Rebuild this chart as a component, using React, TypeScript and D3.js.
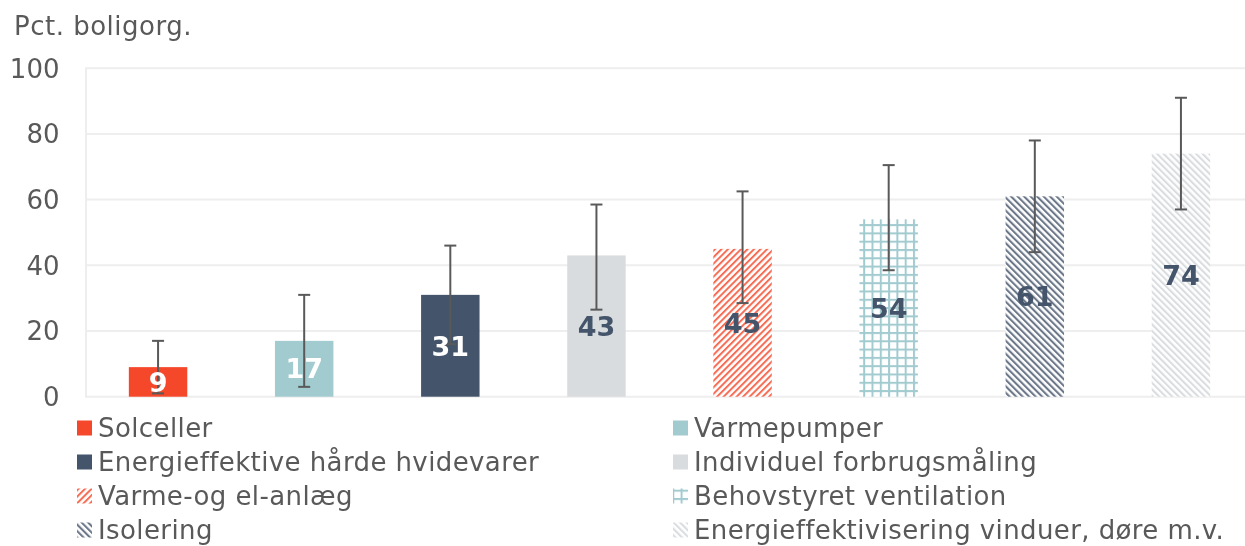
import React from 'react';
import * as d3 from 'd3';

const categories = [
  'Solceller',
  'Varmepumper',
  'Energieffektive hårde hvidevarer',
  'Individuel forbrugsmåling',
  'Varme-og el-anlæg',
  'Behovstyret ventilation',
  'Isolering',
  'Energieffektivisering vinduer, døre m.v.',
];
const values = [9, 17, 31, 43, 45, 54, 61, 74];
const lowerBounds = [1, 3, 16, 26.5, 28.5, 38.5, 44, 57];
const upperBounds = [17, 31, 46, 58.5, 62.5, 70.5, 78, 91];
const yTicks = [0, 20, 40, 60, 80, 100];

// fill per category: solid colour or pattern id
const fills = ['#F5472A', '#A2CBD0', '#44546A', '#D9DCDF', 'url(#p-red)', 'url(#p-grid)', 'url(#p-dark)', 'url(#p-light)'];
const labelColors = ['#fff', '#fff', '#fff', '#44546A', '#44546A', '#44546A', '#44546A', '#44546A'];

const W = 1245;
const H = 546;
const FONT = '"DejaVu Sans", Verdana, sans-serif';

export default function App() {
  const x = d3.scaleBand<string>().domain(categories).range([85, 1254]).paddingInner(0.6).paddingOuter(0.3);
  const y = d3.scaleLinear().domain([0, 100]).range([396.7, 68.2]);
  const bw = x.bandwidth();

  return (
    <svg width={W} height={H} style={{ position: 'fixed', left: 0, top: 0, fontFamily: FONT }}>
      <defs>
        <pattern id="p-red" width="4.6" height="4.6" patternUnits="userSpaceOnUse" patternTransform="rotate(45)">
          <rect width="4.6" height="4.6" fill="#fff" />
          <rect width="2" height="4.6" fill="#F5472A" opacity="0.8" />
        </pattern>
        <pattern id="p-dark" width="4.6" height="4.6" patternUnits="userSpaceOnUse" patternTransform="rotate(-45)">
          <rect width="4.6" height="4.6" fill="#fff" />
          <rect width="2.1" height="4.6" fill="#6C7889" />
        </pattern>
        <pattern id="p-light" width="4.6" height="4.6" patternUnits="userSpaceOnUse" patternTransform="rotate(-45)">
          <rect width="4.6" height="4.6" fill="#fff" />
          <rect width="2.1" height="4.6" fill="#DADDE0" />
        </pattern>
        <pattern id="p-grid" width="8.3" height="8.3" patternUnits="userSpaceOnUse">
          <rect width="8.3" height="8.3" fill="#fff" />
          <rect width="2" height="8.3" fill="#A2CBD0" />
          <rect width="8.3" height="2" fill="#A2CBD0" />
        </pattern>
      </defs>

      <text x={14} y={35} fontSize={26} letterSpacing={0.5} fill="#595959">Pct. boligorg.</text>

      <line x1={86} x2={86} y1={y(100)} y2={y(0)} stroke="#EEEEEE" strokeWidth={2} />
      {yTicks.map(t => (
        <g key={t}>
          <line x1={85} x2={W} y1={y(t)} y2={y(t)} stroke="#EEEEEE" strokeWidth={2} />
          <text x={59.5} y={y(t)} dy="0.36em" textAnchor="end" fontSize={26} fill="#595959">{t}</text>
        </g>
      ))}

      {categories.map((c, i) => (
        <rect key={c} x={x(c)} y={y(values[i])} width={bw} height={y(0) - y(values[i])} fill={fills[i]} />
      ))}

      {categories.map((c, i) => {
        const cx = (x(c) ?? 0) + bw / 2;
        return (
          <g key={c} stroke="#595959" strokeWidth={2}>
            <line x1={cx} x2={cx} y1={y(upperBounds[i])} y2={y(lowerBounds[i])} />
            <line x1={cx - 6} x2={cx + 6} y1={y(upperBounds[i])} y2={y(upperBounds[i])} />
            <line x1={cx - 6} x2={cx + 6} y1={y(lowerBounds[i])} y2={y(lowerBounds[i])} />
          </g>
        );
      })}

      {categories.map((c, i) => (
        <text
          key={c}
          x={(x(c) ?? 0) + bw / 2}
          y={(y(values[i]) + y(0)) / 2}
          dy="0.36em"
          textAnchor="middle"
          fontSize={27}
          fontWeight="bold"
          fill={labelColors[i]}
        >
          {values[i]}
        </text>
      ))}

      {categories.map((c, i) => {
        const col = i % 2;
        const row = Math.floor(i / 2);
        const lx = col === 0 ? 77 : 673;
        const ly = 428 + row * 34;
        return (
          <g key={c}>
            <rect x={lx} y={ly - 7.5} width={15} height={15} fill={fills[i]} />
            <text x={lx + 21} y={ly} dy="0.36em" fontSize={26} letterSpacing={0.4} fill="#595959">{c}</text>
          </g>
        );
      })}
    </svg>
  );
}
